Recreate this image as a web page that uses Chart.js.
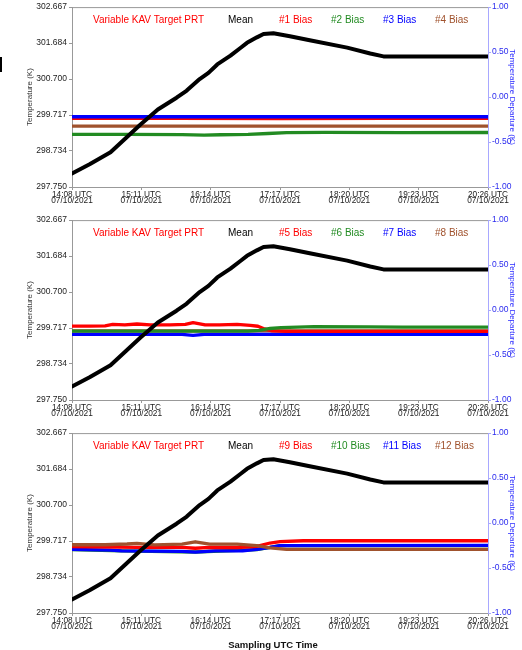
<!DOCTYPE html>
<html>
<head>
<meta charset="utf-8">
<script src="https://cdn.jsdelivr.net/npm/chart.js@4.4.1/dist/chart.umd.min.js"></script>
<style>
  html, body { margin: 0; padding: 0; background: #fff; }
  body { width: 522px; height: 650px; position: relative; overflow: hidden; font-family: "Liberation Sans", Arial, sans-serif; }
  .panel { position: absolute; left: 0; width: 522px; }
  #p1 { top: 0; height: 213px; }
  #p2 { top: 213px; height: 213px; }
  #p3 { top: 426px; height: 224px; }
  #xtitle { position: absolute; left: 0; top: 639px; width: 546px; text-align: center; font-weight: bold; font-size: 9.5px; line-height: 11px; color: #111; }
  #edge { position: absolute; left: 0; top: 57px; width: 2px; height: 15px; background: #000; }
</style>
</head>
<body>
<div id="edge"></div>
<div class="panel" id="p1"><canvas id="c1"></canvas></div>
<div class="panel" id="p2"><canvas id="c2"></canvas></div>
<div class="panel" id="p3"><canvas id="c3"></canvas></div>
<div id="xtitle">Sampling UTC Time</div>
<script>
// ---- axis ticks (x in minutes after 14:08 UTC) ----
const tickMinutes = [0, 63, 126, 189, 252, 315, 378];
const tickTimes = ['14:08 UTC', '15:11 UTC', '16:14 UTC', '17:17 UTC', '18:20 UTC', '19:23 UTC', '20:26 UTC'];
const tickDate = '07/10/2021';
const tempTicks = [297.750, 298.734, 299.717, 300.700, 301.684, 302.667];
const tempTickLabels = ['297.750', '298.734', '299.717', '300.700', '301.684', '302.667'];
const departTicks = [-1, -0.5, 0, 0.5, 1];
const departTickLabels = ['-1.00', '-0.50', '0.00', '0.50', '1.00'];

// ---- mean KAV target PRT temperature (K) ----
const meanMinutes = [0, 16, 35, 49, 62, 78, 95, 104, 116, 124, 132, 144, 153, 159, 168, 174, 183, 198, 216, 250, 271, 283, 378];
const meanTemp = [298.12, 298.37, 298.70, 299.09, 299.45, 299.87, 300.19, 300.38, 300.70, 300.87, 301.10, 301.34, 301.55, 301.69, 301.84, 301.93, 301.95, 301.87, 301.76, 301.56, 301.40, 301.32, 301.32];

// ---- PRT bias (K), panel 1 ----
const bias1Min = [0, 95, 190, 285, 378];
const bias1 = [-0.238, -0.238, -0.24, -0.238, -0.238];
const bias2Min = [0, 50, 100, 120, 135, 160, 178, 195, 230, 300, 378];
const bias2 = [-0.414, -0.414, -0.417, -0.424, -0.419, -0.414, -0.405, -0.396, -0.392, -0.395, -0.394];
const bias3Min = [0, 190, 378];
const bias3 = [-0.219, -0.219, -0.219];
const bias4Min = [0, 190, 378];
const bias4 = [-0.323, -0.323, -0.323];

// ---- PRT bias (K), panel 2 ----
const bias5Min = [0, 16, 30, 37, 48, 59, 71, 89, 103, 110, 121, 134, 150, 162, 169, 175, 182, 194, 378];
const bias5 = [-0.179, -0.179, -0.175, -0.16, -0.165, -0.155, -0.165, -0.165, -0.16, -0.14, -0.165, -0.165, -0.16, -0.17, -0.18, -0.21, -0.232, -0.238, -0.238];
const bias6Min = [0, 100, 160, 170, 180, 190, 220, 270, 300, 378];
const bias6 = [-0.235, -0.235, -0.235, -0.225, -0.205, -0.195, -0.185, -0.187, -0.19, -0.19];
const bias7Min = [0, 100, 110, 120, 378];
const bias7 = [-0.271, -0.271, -0.282, -0.271, -0.271];
const bias8Min = [0, 190, 378];
const bias8 = [-0.232, -0.232, -0.232];

// ---- PRT bias (K), panel 3 ----
const bias9Min = [0, 40, 59, 100, 112, 125, 150, 168, 180, 189, 210, 378];
const bias9 = [-0.263, -0.268, -0.27, -0.27, -0.28, -0.27, -0.272, -0.26, -0.222, -0.207, -0.197, -0.197];
const bias10Min = [0, 45, 112, 168, 189, 378];
const bias10 = [-0.296, -0.31, -0.322, -0.296, -0.252, -0.25];
const bias11Min = [0, 35, 45, 70, 100, 112, 130, 155, 168, 180, 189, 378];
const bias11 = [-0.293, -0.3, -0.31, -0.312, -0.315, -0.323, -0.31, -0.308, -0.293, -0.27, -0.25, -0.249];
const bias12Min = [0, 30, 50, 59, 75, 100, 112, 125, 150, 168, 180, 195, 378];
const bias12 = [-0.241, -0.241, -0.233, -0.226, -0.243, -0.235, -0.208, -0.235, -0.235, -0.25, -0.275, -0.293, -0.293];

const RED = '#ff0000', GREEN = '#228b22', BLUE = '#0000ff', BROWN = '#a0522d', BLACK = '#000000';
const FONT = 'Liberation Sans';

function series(label, color, xs, ys, axis, width, order) {
  return {
    label, borderColor: color, backgroundColor: color,
    data: xs.map((x, i) => ({ x, y: ys[i] })),
    yAxisID: axis, borderWidth: width, pointRadius: 0, tension: 0,
    fill: false, order, borderJoinStyle: 'round', borderCapStyle: 'round'
  };
}

// series names written across the top of the plot area
const keyOffsets = [21, 156, 207, 259, 311, 363];
const keyPlugin = {
  id: 'seriesKey',
  afterDraw(chart) {
    const { ctx, chartArea } = chart;
    ctx.save();
    // top frame line
    ctx.strokeStyle = '#999';
    ctx.lineWidth = 1;
    ctx.beginPath();
    ctx.moveTo(chartArea.left, chartArea.top + 0.5);
    ctx.lineTo(chartArea.right, chartArea.top + 0.5);
    ctx.stroke();
    ctx.font = '10px "' + FONT + '"';
    ctx.textBaseline = 'middle';
    ctx.textAlign = 'left';
    const items = [['Variable KAV Target PRT', RED], ['Mean', BLACK]]
      .concat(chart.options.plugins.seriesKey.biasNames.map((n, i) => [n, [RED, GREEN, BLUE, BROWN][i]]));
    items.forEach((it, i) => {
      ctx.fillStyle = it[1];
      ctx.fillText(it[0], chartArea.left + keyOffsets[i], chartArea.top + 13);
    });
    ctx.restore();
  }
};

function makePanel(id, biasNames, biasSets, drawOrder, xHeight) {
  const datasets = [series('Mean', BLACK, meanMinutes, meanTemp, 'yL', 4, 0)];
  const colors = [RED, GREEN, BLUE, BROWN];
  biasSets.forEach((b, i) => {
    datasets.push(series(biasNames[i], colors[i], b[0], b[1], 'yR', 3.3, drawOrder[i]));
  });
  return new Chart(document.getElementById(id), {
    type: 'line',
    data: { datasets },
    plugins: [keyPlugin],
    options: {
      responsive: true,
      maintainAspectRatio: false,
      devicePixelRatio: 1,
      animation: false,
      layout: { padding: { top: 6, left: 0, right: 0, bottom: 0 } },
      plugins: { legend: { display: false }, tooltip: { enabled: false }, seriesKey: { biasNames } },
      scales: {
        x: {
          type: 'linear', min: 0, max: 378,
          afterBuildTicks: s => { s.ticks = tickMinutes.map(v => ({ value: v })); },
          ticks: {
            autoSkip: false, maxRotation: 0, padding: 1, color: '#222',
            font: { family: FONT, size: 8.3, lineHeight: 0.82 },
            callback: (v, i) => [tickTimes[i], tickDate]
          },
          grid: { drawOnChartArea: false, drawTicks: true, tickLength: 3, color: '#999' },
          border: { display: true, color: '#999', width: 1 },
          afterFit: s => { s.height = xHeight; }
        },
        yL: {
          type: 'linear', position: 'left', min: 297.75, max: 302.667,
          afterBuildTicks: s => { s.ticks = tempTicks.map(v => ({ value: v })); },
          ticks: {
            autoSkip: false, padding: 2, color: '#222',
            font: { family: FONT, size: 8.5 },
            callback: (v, i) => tempTickLabels[i]
          },
          grid: { drawOnChartArea: false, drawTicks: true, tickLength: 3, color: '#999' },
          border: { display: true, color: '#999', width: 1 },
          title: { display: true, text: 'Temperature (K)', color: '#333', font: { family: FONT, size: 8 }, padding: { top: 25, bottom: 0 } },
          afterFit: s => { s.width = 72; }
        },
        yR: {
          type: 'linear', position: 'right', min: -1, max: 1,
          afterBuildTicks: s => { s.ticks = departTicks.map(v => ({ value: v })); },
          ticks: {
            autoSkip: false, padding: 1, color: '#2a2aee',
            font: { family: FONT, size: 8.5 },
            callback: (v, i) => departTickLabels[i]
          },
          grid: { drawOnChartArea: false, drawTicks: true, tickLength: 3, color: '#a8a8ff' },
          border: { display: true, color: '#a8a8ff', width: 1 },
          title: { display: true, text: 'Temperature Departure (K)', color: '#2a2aff', font: { family: FONT, size: 8 }, padding: { top: 4.5, bottom: 0 } },
          afterFit: s => { s.width = 34; }
        }
      }
    }
  });
}

makePanel('c1', ['#1 Bias', '#2 Bias', '#3 Bias', '#4 Bias'],
  [[bias1Min, bias1], [bias2Min, bias2], [bias3Min, bias3], [bias4Min, bias4]],
  [2, 4, 1, 3], 26);
makePanel('c2', ['#5 Bias', '#6 Bias', '#7 Bias', '#8 Bias'],
  [[bias5Min, bias5], [bias6Min, bias6], [bias7Min, bias7], [bias8Min, bias8]],
  [2, 1, 3, 4], 26);
makePanel('c3', ['#9 Bias', '#10 Bias', '#11 Bias', '#12 Bias'],
  [[bias9Min, bias9], [bias10Min, bias10], [bias11Min, bias11], [bias12Min, bias12]],
  [2, 4, 3, 1], 37);
</script>
</body>
</html>
